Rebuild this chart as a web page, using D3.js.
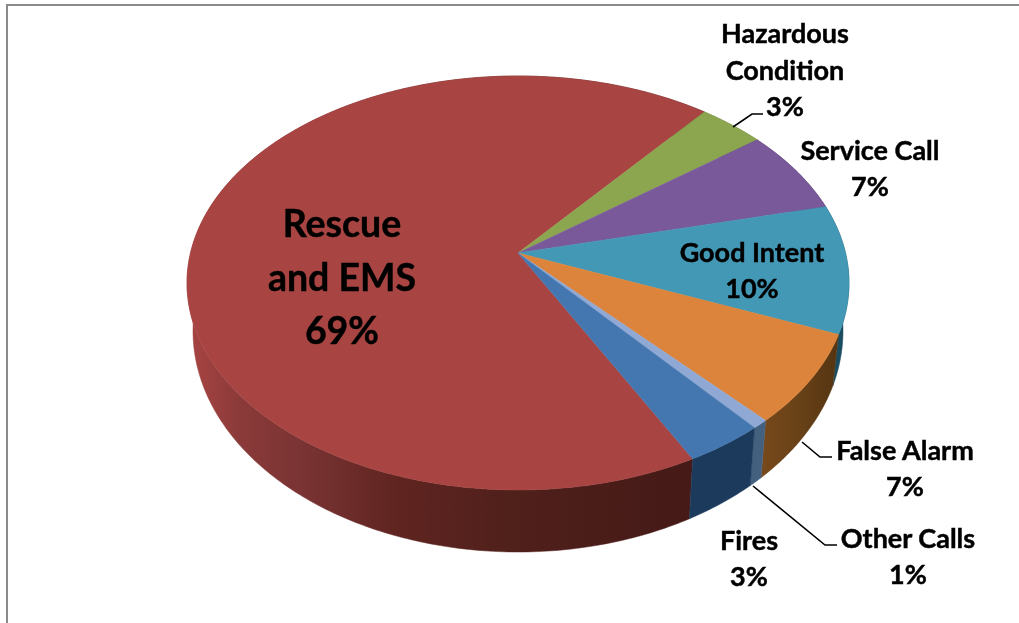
<!DOCTYPE html>
<html>
<head>
<meta charset="utf-8">
<script src="https://cdn.jsdelivr.net/npm/d3@7"></script>
<style>
html,body{margin:0;padding:0;background:#fff;overflow:hidden}
svg{display:block}
text{font-family:Lato,"Open Sans",sans-serif;font-weight:700;fill:#000;stroke:#000;stroke-width:.45px;text-anchor:middle}
</style>
</head>
<body>
<svg id="chart" width="1019" height="623"></svg>
<script>
// ---- data ----
const categories = ["Rescue and EMS","Hazardous Condition","Service Call","Good Intent","False Alarm","Other Calls","Fires"];
const shares     = [68.6,3.7,6.6,10.0,7.0,0.7,3.4];      // slice sizes measured on the rim
const percentLabels = ["69%","3%","7%","10%","7%","1%","3%"];
const labelLines = [["Rescue","and EMS"],["Hazardous","Condition"],["Service Call"],["Good Intent"],["False Alarm"],["Other Calls"],["Fires"]];
const topColors  = ["#a84543","#8ba64f","#79599a","#4298b5","#dc843b","#8fa8d4","#4476b0"];
const wallStops  = [
  [["#a24241",.02],["#8a3a39",.08],["#7a3433",.17],["#5f2420",.32],["#50201b",.49],["#451a17",.745]],
  [["#5a6e30",0],["#5a6e30",1]],
  [["#4a3560",0],["#4a3560",1]],
  [["#1a4c60",0],["#1a4c60",1]],
  [["#7c4b1c",.85],["#6a4217",.92],["#553512",.98]],
  [["#44607f",0],["#44607f",1]],
  [["#1c3a5c",0],["#1c3a5c",1]]
];
// ---- layout ----
const apex  = {x:518,y:253};
const rim   = {cx:518,cy:283,a:331,b:207};
const floor = {cx:518,cy:331,a:325,b:221};
const startDeg = 152.3;
const labelPos = [
  {x:342,y:224,dy:53.5,size:37.5},
  {x:785,y:34,dy:36.5,size:27},
  {x:870,y:151,dy:36,size:27},
  {x:752,y:253,dy:36,size:27},
  {x:905,y:451,dy:36,size:27},
  {x:908,y:539,dy:36,size:27},
  {x:749,y:541,dy:36,size:27}
];
const leaders = [
  [[733,127],[752,114],[763,114]],
  [[802,442],[820,457],[832,457]],
  [[753,486],[825,545],[837,545]]
];

const svg = d3.select("#chart");
const defs = svg.append("defs");
svg.append("path").attr("d","M7 623V5H1019").attr("fill","none").attr("stroke","#8a8a8a").attr("stroke-width",2);

// The tilted disc is a projective image of a circle: its centre lands on the apex.
const px = (apex.x-rim.cx)/rim.a, py = (apex.y-rim.cy)/rim.b;
const gamma = Math.sqrt(1-py*py-px*px);
function discPoint(a){            // d3 angle -> normalised ellipse coordinate
  const u=Math.sin(a), v=-Math.cos(a);
  const d=1+px*u+py*v, pp=px*px+py*py;
  const dot=(px*u+py*v);
  const k=pp>0?(1-gamma)*dot/pp:0;
  return [(px+gamma*u+k*px)/d,(py+gamma*v+k*py)/d];
}
const onRim = a=>{const [u,v]=discPoint(a);return [rim.cx+rim.a*u,rim.cy+rim.b*v];};
const onFloor = a=>{const [u,v]=discPoint(a);return [floor.cx+floor.a*u,floor.cy+floor.b*v];};

const start = startDeg*Math.PI/180;
const pie = d3.pie().sort(null).startAngle(start).endAngle(start+2*Math.PI);
const arcs = pie(shares);
const line = d3.line();
const samples = d=>{
  const n=Math.max(2,Math.ceil((d.endAngle-d.startAngle)/(Math.PI/240)));
  return d3.range(n+1).map(i=>d.startAngle+(d.endAngle-d.startAngle)*i/n);
};

const g = svg.append("g").style("filter","blur(0.5px)");

wallStops.forEach((st,i)=>{
  const lg=defs.append("linearGradient").attr("id","wall"+i).attr("gradientUnits","userSpaceOnUse")
    .attr("x1",rim.cx-rim.a).attr("x2",rim.cx+rim.a).attr("y1",0).attr("y2",0);
  lg.selectAll("stop").data(st).join("stop").attr("offset",d=>d[1]).attr("stop-color",d=>d[0]);
});

g.append("g").selectAll("path").data(arcs).join("path")
  .attr("d",d=>{
    const t=samples(d);
    return line(t.map(onRim).concat(t.slice().reverse().map(onFloor)))+"Z";
  })
  .attr("fill",(d,i)=>`url(#wall${i})`)
  .attr("stroke",(d,i)=>`url(#wall${i})`).attr("stroke-width",.5);

g.append("g").selectAll("path").data(arcs).join("path")
  .attr("d",d=>line([[apex.x,apex.y]].concat(samples(d).map(onRim)))+"Z")
  .attr("fill",(d,i)=>topColors[i])
  .attr("stroke",(d,i)=>topColors[i]).attr("stroke-width",.5);

g.append("g").selectAll("path").data(leaders).join("path")
  .attr("d",d=>line(d)).attr("fill","none").attr("stroke","#000").attr("stroke-width",1.6);

const labels = svg.append("g").style("filter","blur(0.4px)").selectAll("text").data(categories).join("text")
  .attr("font-size",(d,i)=>labelPos[i].size);
labels.each(function(d,i){
  const p=labelPos[i], rows=labelLines[i].concat(percentLabels[i]);
  d3.select(this).selectAll("tspan").data(rows).join("tspan")
    .attr("x",p.x).attr("y",(r,j)=>p.y+j*p.dy).attr("dy","0.35em").text(r=>r);
});
</script>
</body>
</html>
